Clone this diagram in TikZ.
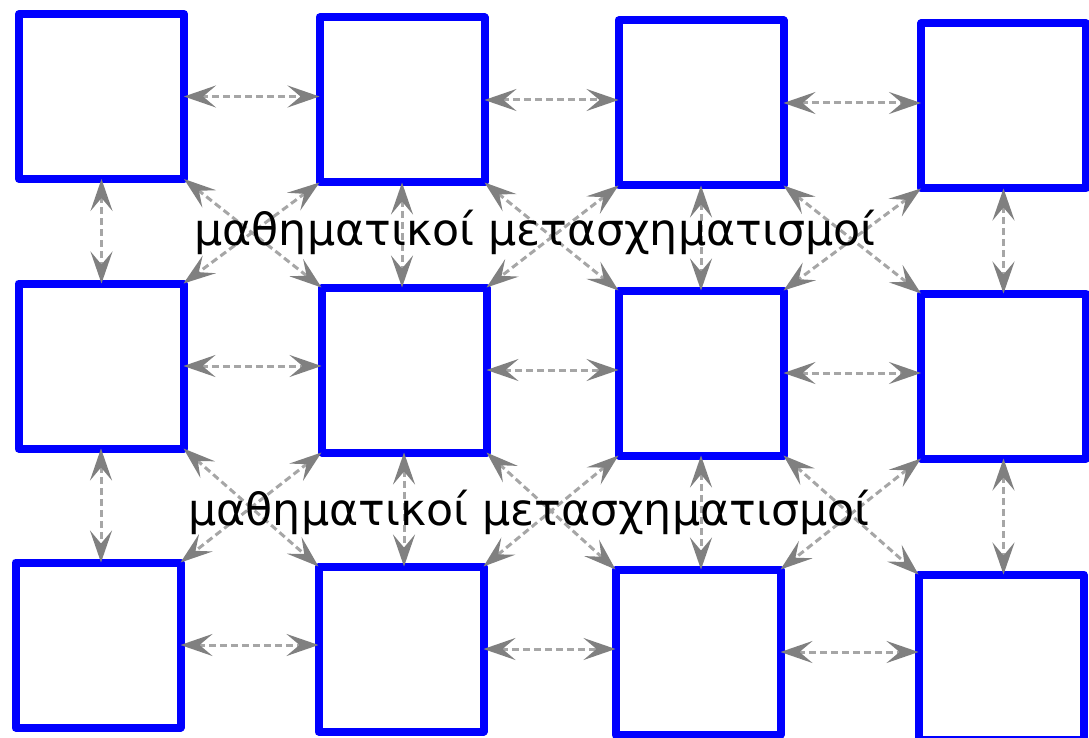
\documentclass[tikz,border=0pt]{standalone}
\usepackage{fontspec}
\setmainfont{DejaVu Sans}
\usetikzlibrary{arrows.meta}
\begin{document}
\begin{tikzpicture}[x=1pt,y=-1pt,
  box/.style={draw=blue, line width=8pt, line join=round, fill=white,
    minimum width=165pt, minimum height=165pt, outer sep=0pt, inner sep=0pt},
  link/.style={draw=gray!70, line width=3pt, dash pattern=on 7pt off 4pt,
    {Stealth[length=32pt,width=22pt,inset=13pt,fill=black!50,color=black!50]}-{Stealth[length=32pt,width=22pt,inset=13pt,fill=black!50,color=black!50]}},
  greektext/.style={font=\fontsize{44.3}{54}\selectfont, text=black, inner sep=0pt, anchor=base}
]
\clip (0,0) rectangle (1089,738);
\useasboundingbox (0,0) rectangle (1089,738);

% grid of squares: row r, column c
\node[box] (n11) at (101.5,96.5) {};
\node[box] (n12) at (402,100) {};
\node[box] (n13) at (701,103) {};
\node[box] (n14) at (1003.5,106) {};
\node[box] (n21) at (101,366) {};
\node[box] (n22) at (404,370) {};
\node[box] (n23) at (701,373) {};
\node[box] (n24) at (1003.5,376) {};
\node[box] (n31) at (98,645) {};
\node[box] (n32) at (401,649) {};
\node[box] (n33) at (698,652) {};
\node[box] (n34) at (1001,657) {};

% horizontal links, level with the left square's mid-height
\foreach \r in {1,2,3}{
  \foreach \c/\d in {1/2,2/3,3/4}{
    \draw[link] (n\r\c.east) -- (n\r\c.east -| n\r\d.west);
  }
}
% vertical links, straight down from the upper square
\foreach \r/\s in {1/2,2/3}{
  \foreach \c in {1,2,3,4}{
    \draw[link] (n\r\c.south) -- (n\r\c.south |- n\s\c.north);
  }
}
% diagonal links between corners
\foreach \r/\s in {1/2,2/3}{
  \foreach \c/\d in {1/2,2/3,3/4}{
    \draw[link] (n\r\c.south east) -- (n\s\d.north west);
    \draw[link] (n\r\d.south west) -- (n\s\c.north east);
  }
}

\node[greektext] (t1) at (535,245) {μαθηματικοί μετασχηματισμοί};
\node[greektext] (t2) at (529,525) {μαθηματικοί μετασχηματισμοί};
\end{tikzpicture}
\end{document}
